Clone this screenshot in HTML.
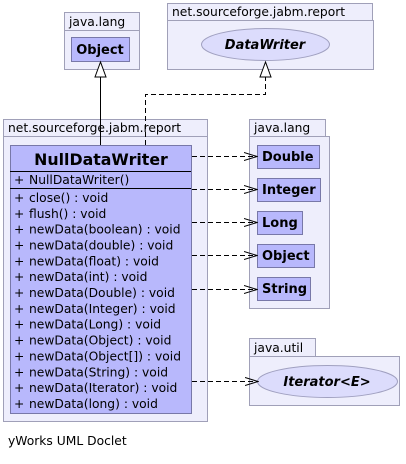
<!DOCTYPE html>
<html><head><meta charset="utf-8"><style>html,body{margin:0;padding:0;background:#fff}</style></head>
<body>
<svg width="406" height="459" xmlns="http://www.w3.org/2000/svg" font-family="DejaVu Sans, Liberation Sans, sans-serif">
<defs>
<marker id="open" markerWidth="14" markerHeight="10" refX="13" refY="5" orient="auto" markerUnits="userSpaceOnUse">
<path d="M0,1 L13,5 L0,9" fill="none" stroke="#000" stroke-width="1"/></marker>
</defs>
<g stroke="#a0a0b8" fill="#eeeefc">
<rect x="64.5" y="12.5" width="75" height="18"/><rect x="64.5" y="30.5" width="75" height="39"/>
<rect x="167.5" y="3.5" width="205" height="17"/><rect x="167.5" y="20.5" width="206" height="49"/>
<rect x="3.5" y="119.5" width="204" height="17"/><rect x="3.5" y="136.5" width="204" height="285"/>
<rect x="249.5" y="119.5" width="76" height="17"/><rect x="249.5" y="136.5" width="80" height="172"/>
<rect x="249.5" y="338.5" width="66" height="18"/><rect x="249.5" y="356.5" width="150" height="49"/>
</g>
<g font-size="12.3" fill="#000">
<text x="69" y="26">java.lang</text>
<text x="172" y="16">net.sourceforge.jabm.report</text>
<text x="8" y="132">net.sourceforge.jabm.report</text>
<text x="254" y="132">java.lang</text>
<text x="254" y="352">java.util</text>
<text x="8" y="445">yWorks UML Doclet</text>
</g>
<g stroke="#7878a8" fill="#b8b8fc">
<rect x="71.5" y="37.5" width="58" height="24"/>
<rect x="10.5" y="145.5" width="181" height="268"/>
<rect x="257.5" y="145.5" width="62" height="23"/>
<rect x="257.5" y="178.5" width="63" height="23"/>
<rect x="257.5" y="211.5" width="45" height="23"/>
<rect x="257.5" y="244.5" width="57" height="23"/>
<rect x="257.5" y="277.5" width="53" height="23"/>
</g>
<g stroke="#a0a0c0" fill="#dcdcfc">
<ellipse cx="265.5" cy="44.5" rx="64" ry="16"/>
<ellipse cx="327.5" cy="381.5" rx="70" ry="16"/>
</g>
<g font-size="13" font-weight="bold" fill="#000">
<text x="100" y="54" text-anchor="middle">Object</text>
<text x="262" y="161">Double</text>
<text x="262" y="194">Integer</text>
<text x="262" y="227">Long</text>
<text x="262" y="260">Object</text>
<text x="262" y="293">String</text>
<text x="265" y="49" text-anchor="middle" font-style="italic">DataWriter</text>
<text x="327" y="386" text-anchor="middle" font-style="italic">Iterator&lt;E&gt;</text>
</g>
<text x="101" y="165" text-anchor="middle" font-size="15.8" font-weight="bold">NullDataWriter</text>
<g stroke="#000"><line x1="10" y1="171.5" x2="191" y2="171.5"/><line x1="10" y1="188.5" x2="191" y2="188.5"/></g>
<g font-size="12.3" fill="#000">
<g>
<text x="14" y="184">+</text><text x="14" y="202">+</text><text x="14" y="217.8">+</text><text x="14" y="233.7">+</text>
<text x="14" y="249.5">+</text><text x="14" y="265.4">+</text><text x="14" y="281.2">+</text><text x="14" y="297">+</text>
<text x="14" y="312.9">+</text><text x="14" y="328.7">+</text><text x="14" y="344.6">+</text><text x="14" y="360.4">+</text>
<text x="14" y="376.3">+</text><text x="14" y="392.1">+</text><text x="14" y="408">+</text>
</g>
<text x="29" y="184">NullDataWriter()</text>
<text x="29" y="202">close() : void</text>
<text x="29" y="217.8">flush() : void</text>
<text x="29" y="233.7">newData(boolean) : void</text>
<text x="29" y="249.5">newData(double) : void</text>
<text x="29" y="265.4">newData(float) : void</text>
<text x="29" y="281.2">newData(int) : void</text>
<text x="29" y="297">newData(Double) : void</text>
<text x="29" y="312.9">newData(Integer) : void</text>
<text x="29" y="328.7">newData(Long) : void</text>
<text x="29" y="344.6">newData(Object) : void</text>
<text x="29" y="360.4">newData(Object[]) : void</text>
<text x="29" y="376.3">newData(String) : void</text>
<text x="29" y="392.1">newData(Iterator) : void</text>
<text x="29" y="408">newData(long) : void</text>
</g>
<g stroke="#000" fill="none">
<line x1="100.5" y1="77" x2="100.5" y2="145"/>
<path d="M145.5,145 V94.5 H265.5 V77" stroke-dasharray="5,3"/>
<path d="M100.5,62 L95,77 H106 Z" fill="#fff"/>
<path d="M265.5,62 L260,77 H271 Z" fill="#fff"/>
<g stroke-dasharray="5,3" marker-end="url(#open)">
<line x1="192" y1="156.5" x2="257" y2="156.5"/>
<line x1="192" y1="189.5" x2="257" y2="189.5"/>
<line x1="192" y1="222.5" x2="257" y2="222.5"/>
<line x1="192" y1="255.5" x2="257" y2="255.5"/>
<line x1="192" y1="289.5" x2="257" y2="289.5"/>
<line x1="192" y1="381.5" x2="258" y2="381.5"/>
</g>
</g>
</svg>
</body></html>
